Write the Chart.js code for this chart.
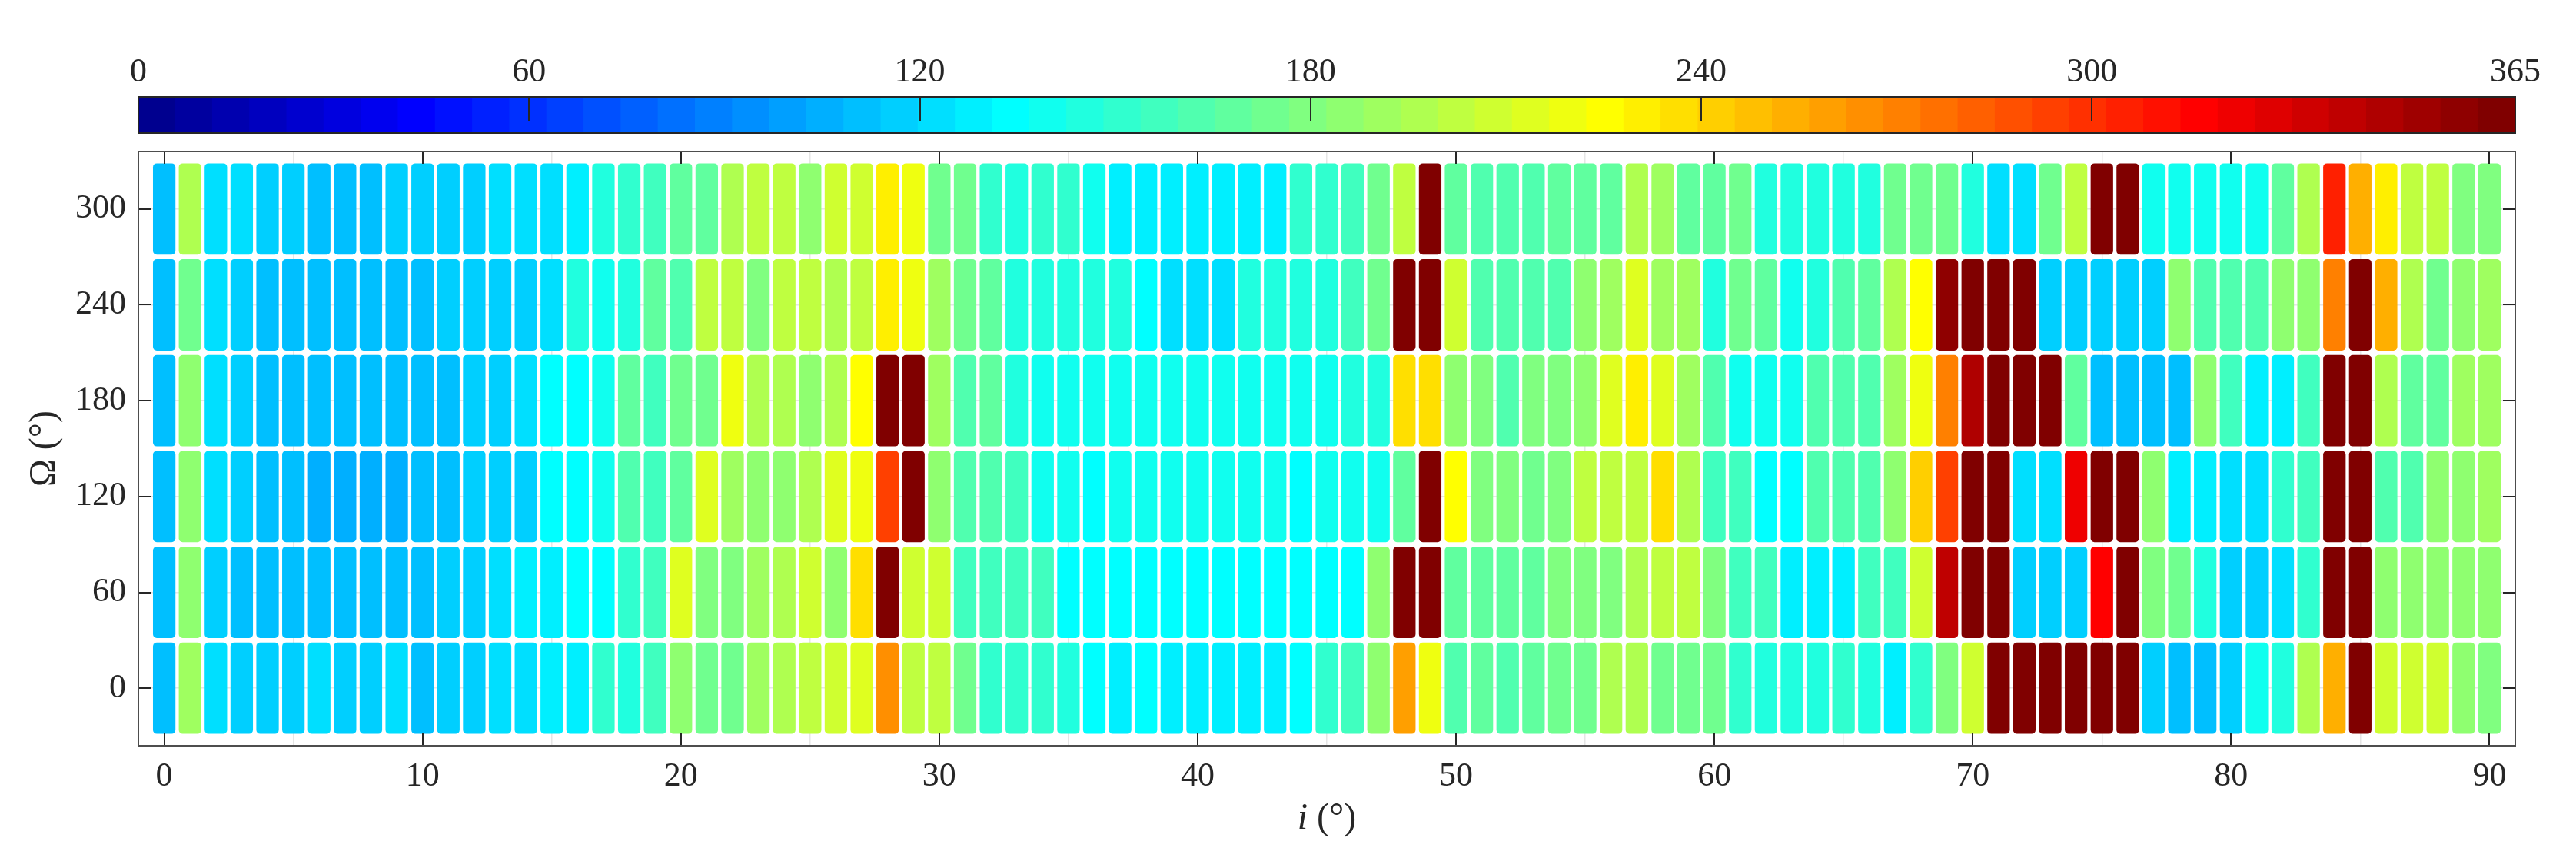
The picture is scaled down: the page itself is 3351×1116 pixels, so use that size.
<!DOCTYPE html>
<html>
<head>
<meta charset="utf-8">
<title>Days by inclination and RAAN</title>
<script src="https://cdn.jsdelivr.net/npm/chart.js@4.4.1/dist/chart.umd.min.js"></script>
<style>
    html, body { margin: 0; padding: 0; background: #fff; }
    body { width: 3351px; height: 1116px; position: relative; overflow: hidden; }
    #map-wrap { position: absolute; left: 0; top: 0; width: 3351px; height: 1116px; }
    #cbar-wrap { position: absolute; left: 0; top: 0; width: 3351px; height: 190px; }
</style>
</head>
<body>
<div id="map-wrap"><canvas id="map"></canvas></div>
<div id="cbar-wrap"><canvas id="cbar"></canvas></div>
<script>
/* Heat map of values (0-365) over inclination i and RAAN Omega.
   Cells are floating bars on a linear x scale; colours follow jet(64). */

// ---- data ---------------------------------------------------------------
var inclination = [0, 1, 2, 3, 4, 5, 6, 7, 8, 9, 10, 11, 12, 13, 14, 15, 16, 17, 18, 19,
    20, 21, 22, 23, 24, 25, 26, 27, 28, 29, 30, 31, 32, 33, 34, 35, 36, 37, 38, 39,
    40, 41, 42, 43, 44, 45, 46, 47, 48, 49, 50, 51, 52, 53, 54, 55, 56, 57, 58, 59,
    60, 61, 62, 63, 64, 65, 66, 67, 68, 69, 70, 71, 72, 73, 74, 75, 76, 77, 78, 79,
    80, 81, 82, 83, 84, 85, 86, 87, 88, 89, 90];
var omegaLevels = [0, 60, 120, 180, 240, 300];

var daysOmega0 = [111, 191, 123, 117, 117, 117, 123, 117, 117, 123, 111, 117, 117, 123, 123, 128,
    128, 151, 145, 157, 185, 174, 174, 191, 197, 203, 208, 214, 265, 203, 203,
    174, 151, 151, 151, 145, 134, 128, 134, 128, 128, 128, 128, 128, 134, 151,
    157, 185, 260, 220, 163, 168, 163, 168, 174, 174, 197, 197, 174, 174, 174,
    151, 145, 145, 145, 151, 145, 128, 151, 180, 208, 362, 362, 362, 362, 362,
    362, 117, 111, 111, 117, 140, 145, 197, 254, 362, 208, 208, 208, 185, 180];
var daysOmega60 = [111, 185, 117, 111, 111, 111, 111, 111, 111, 111, 111, 117, 117, 123, 128, 128,
    134, 134, 151, 157, 214, 180, 180, 191, 197, 208, 185, 237, 362, 208, 208,
    157, 157, 157, 157, 134, 134, 134, 134, 134, 134, 134, 134, 134, 134, 134,
    134, 185, 362, 362, 168, 168, 168, 168, 180, 180, 180, 197, 203, 203, 180,
    157, 157, 128, 128, 128, 157, 157, 208, 339, 362, 362, 117, 117, 117, 317,
    362, 180, 174, 145, 117, 117, 123, 151, 362, 362, 185, 185, 185, 185, 185];
var daysOmega120 = [111, 185, 123, 117, 111, 111, 105, 105, 105, 105, 111, 111, 117, 117, 117, 134,
    134, 140, 163, 157, 168, 214, 191, 185, 185, 197, 214, 220, 294, 362, 185,
    163, 163, 157, 140, 140, 134, 140, 140, 140, 140, 140, 140, 140, 134, 140,
    140, 140, 168, 362, 225, 180, 180, 174, 180, 203, 203, 200, 237, 197, 157,
    157, 134, 134, 163, 163, 163, 185, 242, 294, 362, 362, 123, 123, 322, 362,
    362, 185, 128, 128, 123, 123, 151, 157, 362, 362, 163, 163, 185, 185, 191];
var daysOmega180 = [111, 185, 123, 117, 111, 111, 111, 111, 111, 111, 111, 111, 117, 117, 123, 134,
    134, 140, 168, 157, 174, 174, 220, 197, 197, 185, 197, 225, 362, 362, 191,
    163, 168, 145, 140, 140, 140, 140, 140, 140, 140, 140, 140, 140, 140, 140,
    145, 145, 237, 237, 185, 180, 163, 180, 180, 185, 214, 231, 214, 191, 163,
    140, 140, 140, 163, 163, 163, 191, 220, 271, 345, 362, 362, 362, 168, 111,
    111, 111, 111, 185, 157, 128, 128, 157, 362, 362, 197, 168, 168, 191, 191];
var daysOmega240 = [111, 174, 123, 117, 111, 111, 111, 111, 111, 111, 111, 117, 117, 117, 117, 123,
    145, 140, 145, 168, 163, 203, 203, 180, 203, 203, 197, 203, 231, 220, 191,
    174, 168, 145, 145, 145, 145, 145, 134, 123, 123, 123, 145, 145, 145, 145,
    157, 174, 362, 362, 208, 163, 163, 163, 163, 185, 191, 214, 191, 191, 145,
    174, 168, 140, 145, 163, 168, 197, 225, 356, 362, 362, 362, 117, 117, 117,
    117, 117, 185, 163, 163, 163, 185, 185, 271, 362, 254, 197, 174, 185, 191];
var daysOmega300 = [111, 197, 123, 123, 117, 117, 111, 111, 111, 117, 117, 117, 117, 123, 123, 123,
    128, 145, 151, 157, 168, 168, 197, 203, 203, 185, 208, 208, 231, 220, 174,
    174, 151, 145, 151, 151, 140, 128, 128, 128, 128, 128, 128, 128, 151, 151,
    157, 174, 203, 362, 168, 163, 163, 163, 168, 168, 168, 197, 191, 168, 168,
    174, 145, 145, 145, 145, 145, 174, 174, 174, 145, 123, 123, 174, 203, 362,
    362, 140, 140, 140, 140, 140, 168, 197, 305, 256, 231, 203, 203, 180, 180];

var xTicks = [0, 10, 20, 30, 40, 50, 60, 70, 80, 90];
var yTicks = [0, 60, 120, 180, 240, 300];
var cbarTicks = [0, 60, 120, 180, 240, 300, 365];

// ---- look ---------------------------------------------------------------
var CBAR_MAX = 365;
var CBAR_STEPS = 64;
var HALF_CELL = 28.6;
var INK = '#262626';
var FONT = '"Liberation Serif", "DejaVu Serif", serif';

Chart.defaults.font.family = FONT;
Chart.defaults.color = INK;
Chart.defaults.animation = false;

var clamp01 = function (v) { return Math.max(0, Math.min(1, v)); };

// MATLAB jet(64), indexed by the bin a value falls into
var jet = function (v) {
    var k = Math.min(CBAR_STEPS - 1, Math.max(0, Math.floor(v / CBAR_MAX * CBAR_STEPS))) + 1;
    var r = clamp01(Math.min((k - 24) / 16, (72 - k) / 16));
    var g = clamp01(Math.min((k - 8) / 16, (56 - k) / 16));
    var b = clamp01(Math.min((k + 8) / 16, (40 - k) / 16));
    return 'rgb(' + Math.round(r * 255) + ',' + Math.round(g * 255) + ',' + Math.round(b * 255) + ')';
};

var setTicks = function (values) {
    return function (scale) {
        scale.ticks = values.map(function (v) { return { value: v }; });
    };
};

// ---- main map -----------------------------------------------------------
var rows = [daysOmega0, daysOmega60, daysOmega120, daysOmega180, daysOmega240, daysOmega300];

var datasets = omegaLevels.map(function (om, r) {
    return {
        label: 'Omega ' + om,
        data: inclination.map(function (inc) {
            return { x: inc, y: [om - HALF_CELL, om + HALF_CELL] };
        }),
        backgroundColor: rows[r].map(jet),
        borderWidth: 0,
        borderRadius: 5,
        borderSkipped: false,
        grouped: false,
        categoryPercentage: 1,
        barPercentage: 0.87
    };
});

// box, inward tick marks on all four sides, axis titles
var frame = {
    id: 'frame',
    afterDraw: function (chart) {
        var a = chart.chartArea;
        var ctx = chart.ctx;
        var sx = chart.scales.x;
        var sy = chart.scales.y;
        var len = 16;
        ctx.save();
        ctx.strokeStyle = INK;
        ctx.lineWidth = 2;
        ctx.beginPath();
        xTicks.forEach(function (v) {
            var px = Math.round(sx.getPixelForValue(v));
            ctx.moveTo(px, a.bottom); ctx.lineTo(px, a.bottom - len);
            ctx.moveTo(px, a.top); ctx.lineTo(px, a.top + len);
        });
        yTicks.forEach(function (v) {
            var py = Math.round(sy.getPixelForValue(v));
            ctx.moveTo(a.left, py); ctx.lineTo(a.left + len, py);
            ctx.moveTo(a.right, py); ctx.lineTo(a.right - len, py);
        });
        ctx.stroke();
        ctx.strokeStyle = '#4d4d4d';
        ctx.strokeRect(a.left, a.top, a.right - a.left, a.bottom - a.top);

        // x title: italic i, upright (°)
        ctx.fillStyle = INK;
        ctx.textBaseline = 'alphabetic';
        ctx.textAlign = 'left';
        var fIt = 'italic 48px ' + FONT;
        var fUp = '48px ' + FONT;
        ctx.font = fIt;
        var w1 = ctx.measureText('i').width;
        ctx.font = fUp;
        var w2 = ctx.measureText(' (°)').width;
        var x0 = (a.left + a.right) / 2 - (w1 + w2) / 2;
        ctx.font = fIt;
        ctx.fillText('i', x0, 1078);
        ctx.font = fUp;
        ctx.fillText(' (°)', x0 + w1, 1078);

        // y title
        ctx.translate(58, (a.top + a.bottom) / 2);
        ctx.rotate(-Math.PI / 2);
        ctx.textAlign = 'center';
        ctx.textBaseline = 'middle';
        ctx.fillText('Ω (°)', 0, 0);
        ctx.restore();
    }
};

new Chart(document.getElementById('map'), {
    type: 'bar',
    data: { datasets: datasets },
    options: {
        responsive: true,
        maintainAspectRatio: false,
        devicePixelRatio: 1,
        layout: { padding: { top: 197, right: 79, left: 0, bottom: 0 } },
        plugins: { legend: { display: false }, tooltip: { enabled: false } },
        events: [],
        scales: {
            x: {
                type: 'linear',
                min: -1,
                max: 91,
                offset: false,
                afterBuildTicks: setTicks(xTicks),
                afterFit: function (s) { s.height = 146; },
                grid: { color: '#e6e6e6', lineWidth: 1.5, drawTicks: false },
                border: { display: false },
                ticks: { font: { size: 44 }, padding: 14, maxRotation: 0, color: INK }
            },
            y: {
                type: 'linear',
                min: -36,
                max: 336,
                afterBuildTicks: setTicks(yTicks),
                afterFit: function (s) { s.width = 180; },
                grid: { color: '#e6e6e6', lineWidth: 1.5, drawTicks: false },
                border: { display: false },
                ticks: { font: { size: 44 }, padding: 16, color: INK }
            }
        }
    },
    plugins: [frame]
});

// ---- colour bar ---------------------------------------------------------
var cbarCenters = [];
for (var k = 0; k < CBAR_STEPS; k++) cbarCenters.push((k + 0.5) * CBAR_MAX / CBAR_STEPS);

var cbarFrame = {
    id: 'cbarFrame',
    afterDraw: function (chart) {
        var a = chart.chartArea;
        var ctx = chart.ctx;
        var sx = chart.scales.x;
        ctx.save();
        ctx.strokeStyle = INK;
        ctx.lineWidth = 2;
        ctx.beginPath();
        cbarTicks.slice(1, -1).forEach(function (v) {
            var px = Math.round(sx.getPixelForValue(v));
            ctx.moveTo(px, a.top); ctx.lineTo(px, a.top + 31);
        });
        ctx.stroke();
        ctx.strokeRect(a.left, a.top, a.right - a.left, a.bottom - a.top);
        ctx.restore();
    }
};

new Chart(document.getElementById('cbar'), {
    type: 'bar',
    data: {
        datasets: [{
            label: 'colour scale',
            data: cbarCenters.map(function (c) { return { x: c, y: 1 }; }),
            backgroundColor: cbarCenters.map(jet),
            borderWidth: 0,
            categoryPercentage: 1,
            barPercentage: 1.03
        }]
    },
    options: {
        responsive: true,
        maintainAspectRatio: false,
        devicePixelRatio: 1,
        layout: { padding: { top: 0, right: 79, left: 180, bottom: 17 } },
        plugins: { legend: { display: false }, tooltip: { enabled: false } },
        events: [],
        scales: {
            x: {
                type: 'linear',
                position: 'top',
                min: 0,
                max: CBAR_MAX,
                offset: false,
                afterBuildTicks: setTicks(cbarTicks),
                afterFit: function (s) { s.height = 126; },
                grid: { display: false, drawTicks: false },
                border: { display: false },
                ticks: { font: { size: 44 }, padding: 5, maxRotation: 0, color: INK }
            },
            y: { display: false, min: 0, max: 1 }
        }
    },
    plugins: [cbarFrame]
});
</script>
</body>
</html>
